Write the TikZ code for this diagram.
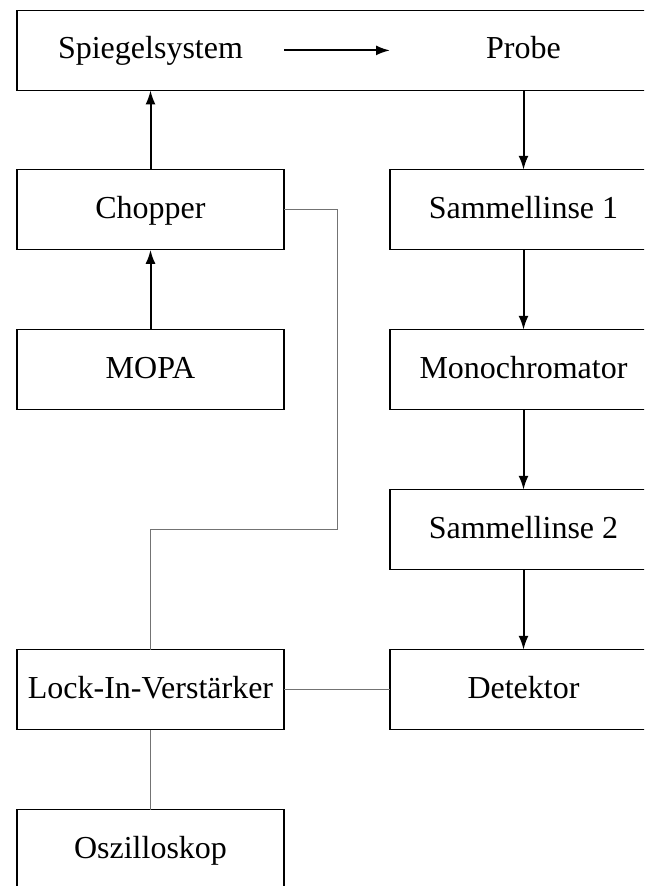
\documentclass[tikz,border=0pt]{standalone}
\usepackage{fontspec}
\setmainfont{Liberation Serif}
\usetikzlibrary{matrix,positioning,arrows.meta}

\begin{document}
\begin{tikzpicture}[x=0.5pt, y=-0.5pt, >={Latex[length=7pt,width=5pt]},
  box/.style={draw, line width=0.6pt, minimum width=133.5pt, minimum height=40pt, anchor=center,
    outer sep=0pt, text height=2ex, text depth=0.2ex},
  beam/.style={->, line width=1pt},
  wire/.style={line width=0.5pt, draw=black!55}]
  \clip (0,0) rectangle (644,886);
  \matrix (m) [matrix of nodes, row sep=39.4pt, column sep=52.4pt, inner sep=0pt, anchor=north west,
    nodes={box, font=\fontsize{16}{19}\selectfont},
    row 1/.style={nodes={draw=none}}] at (16,10)
  {
Spiegelsystem & Probe \\
Chopper & Sammellinse 1 \\
MOPA & Monochromator \\
& Sammellinse 2 \\
Lock-In-Verstärker & Detektor \\
Oszilloskop & \\
};
  % Strahlengang
  \draw[line width=0.6pt] (m-1-1.north west) rectangle (m-1-2.south east);
  \path[beam]
  (m-1-1) edge (m-1-2)
  (m-3-1) edge (m-2-1)
  (m-2-1) edge (m-1-1)
  (m-1-2) edge (m-2-2)
  (m-2-2) edge (m-3-2)
  (m-3-2) edge (m-4-2)
  (m-4-2) edge (m-5-2);
  % Signalleitungen
  \draw[wire] (m-2-1.east) -- ++(53,0) |- (m-5-1.north |- m-4-2) -- (m-5-1.north);
  \path[wire] (m-5-1) edge (m-5-2)
              (m-5-1) edge (m-6-1);
\end{tikzpicture}
\end{document}
